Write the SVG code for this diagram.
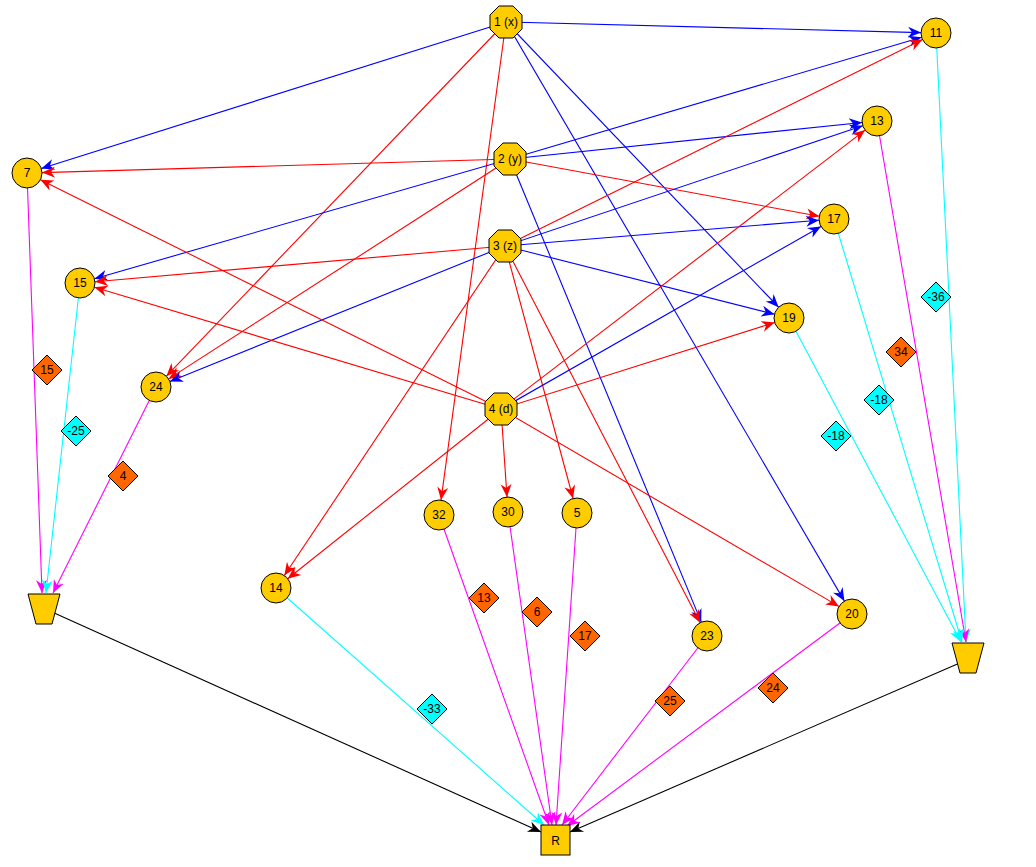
<svg xmlns="http://www.w3.org/2000/svg" xmlns:xlink="http://www.w3.org/1999/xlink" width="1036" height="867" viewBox="0 0 1036 867">
<style>
.nd{fill:#ffcc00;stroke:#000;stroke-width:1}
.t{font-family:"Liberation Sans",Arial,sans-serif;font-size:12px;fill:#000;text-anchor:middle}
.b{stroke:#0000ff;stroke-width:1.1;fill:none;marker-end:url(#mb)}
.r{stroke:#ff0000;stroke-width:1.1;fill:none;marker-end:url(#mr)}
.m{stroke:#ff00ff;stroke-width:1.1;fill:none;marker-end:url(#mm)}
.c{stroke:#00ffff;stroke-width:1.1;fill:none;marker-end:url(#mc)}
.k{stroke:#000;stroke-width:1.1;fill:none;marker-end:url(#mk)}
.dp{fill:#ff6600;stroke:#000;stroke-width:1}
.dn{fill:#00ffff;stroke:#000;stroke-width:1}
</style>
<defs>
<polygon id="oct" points="-7,-16 7,-16 16,-7 16,7 7,16 -7,16 -16,7 -16,-7"/>
<polygon id="dia" points="0,-15 15,0 0,15 -15,0"/>
<polygon id="trap" points="-16,-15 16,-15 8,15 -8,15"/>
<marker id="mb" viewBox="-14 -6 15 12" refX="0" refY="0" markerWidth="15" markerHeight="12" markerUnits="userSpaceOnUse" orient="auto"><path d="M0,0 L-13,-5.5 L-9,0 L-13,5.5 z" fill="#0000ff"/></marker>
<marker id="mr" viewBox="-14 -6 15 12" refX="0" refY="0" markerWidth="15" markerHeight="12" markerUnits="userSpaceOnUse" orient="auto"><path d="M0,0 L-13,-5.5 L-9,0 L-13,5.5 z" fill="#ff0000"/></marker>
<marker id="mm" viewBox="-14 -6 15 12" refX="0" refY="0" markerWidth="15" markerHeight="12" markerUnits="userSpaceOnUse" orient="auto"><path d="M0,0 L-13,-5.5 L-9,0 L-13,5.5 z" fill="#ff00ff"/></marker>
<marker id="mc" viewBox="-14 -6 15 12" refX="0" refY="0" markerWidth="15" markerHeight="12" markerUnits="userSpaceOnUse" orient="auto"><path d="M0,0 L-13,-5.5 L-9,0 L-13,5.5 z" fill="#00ffff"/></marker>
<marker id="mk" viewBox="-14 -6 15 12" refX="0" refY="0" markerWidth="15" markerHeight="12" markerUnits="userSpaceOnUse" orient="auto"><path d="M0,0 L-13,-5.5 L-9,0 L-13,5.5 z" fill="#000000"/></marker>
</defs>
<rect width="1036" height="867" fill="#fff"/>
<g id="connectors">
<!-- from 1 (x) -->
<line class="b" x1="506" y1="22" x2="41.3" y2="168.5"/>
<line class="b" x1="506" y1="22" x2="921" y2="32.6"/>
<line class="r" x1="506" y1="22" x2="166.4" y2="376.2"/>
<line class="r" x1="506" y1="22" x2="441" y2="500.1"/>
<line class="b" x1="506" y1="22" x2="778.6" y2="307.2"/>
<line class="b" x1="506" y1="22" x2="844.4" y2="601.1"/>
<!-- from 2 (y) -->
<line class="r" x1="510" y1="159" x2="42" y2="172.6"/>
<line class="b" x1="510" y1="159" x2="862.1" y2="122.5"/>
<line class="b" x1="510" y1="159" x2="921.6" y2="37.3"/>
<line class="r" x1="510" y1="159" x2="819.3" y2="216.3"/>
<line class="b" x1="510" y1="159" x2="94.4" y2="278.8"/>
<line class="r" x1="510" y1="159" x2="168.6" y2="378.9"/>
<line class="b" x1="510" y1="159" x2="701.3" y2="622.1"/>
<!-- from 3 (z) -->
<line class="r" x1="505" y1="246" x2="922.6" y2="39.6"/>
<line class="b" x1="505" y1="246" x2="862.8" y2="125.8"/>
<line class="b" x1="505" y1="246" x2="819" y2="220.2"/>
<line class="b" x1="505" y1="246" x2="774.5" y2="314.3"/>
<line class="r" x1="505" y1="246" x2="94.9" y2="281.7"/>
<line class="b" x1="505" y1="246" x2="169.9" y2="381.4"/>
<line class="r" x1="505" y1="246" x2="284.3" y2="575.5"/>
<line class="r" x1="505" y1="246" x2="573.1" y2="498.5"/>
<line class="r" x1="505" y1="246" x2="700.1" y2="622.7"/>
<!-- from 4 (d) -->
<line class="r" x1="501" y1="409" x2="40.4" y2="179.7"/>
<line class="r" x1="501" y1="409" x2="94.4" y2="287.3"/>
<line class="b" x1="501" y1="409" x2="821" y2="226.4"/>
<line class="r" x1="501" y1="409" x2="865.1" y2="130.1"/>
<line class="r" x1="501" y1="409" x2="774.7" y2="322.5"/>
<line class="r" x1="501" y1="409" x2="287.7" y2="578.7"/>
<line class="r" x1="501" y1="409" x2="507" y2="497"/>
<line class="r" x1="501" y1="409" x2="839" y2="606.4"/>
<!-- to left trapezoid -->
<line class="m" x1="27" y1="173" x2="42" y2="593"/>
<line class="c" x1="80" y1="283" x2="46" y2="593"/>
<line class="m" x1="156" y1="387" x2="53" y2="593"/>
<!-- to right trapezoid -->
<line class="c" x1="936" y1="33" x2="966" y2="642"/>
<line class="m" x1="877" y1="121" x2="966" y2="642"/>
<line class="c" x1="834" y1="219" x2="962" y2="642"/>
<line class="c" x1="789" y1="318" x2="961" y2="642"/>
<!-- to R -->
<line class="c" x1="276" y1="588" x2="544" y2="825"/>
<line class="m" x1="439" y1="515" x2="549" y2="825"/>
<line class="m" x1="508" y1="512" x2="552" y2="825"/>
<line class="m" x1="577" y1="513" x2="556" y2="825"/>
<line class="m" x1="707" y1="636" x2="562" y2="825"/>
<line class="m" x1="852" y1="614" x2="567" y2="826"/>
<line class="k" x1="52" y1="612" x2="541" y2="832"/>
<line class="k" x1="962" y1="662" x2="570" y2="832"/>
</g>
<g id="edge-labels">
<g transform="translate(47,370)"><use href="#dia" class="dp"/><text class="t" y="4">15</text></g>
<g transform="translate(76,431)"><use href="#dia" class="dn"/><text class="t" y="4">-25</text></g>
<g transform="translate(123,476)"><use href="#dia" class="dp"/><text class="t" y="4">4</text></g>
<g transform="translate(484,598)"><use href="#dia" class="dp"/><text class="t" y="4">13</text></g>
<g transform="translate(537,612)"><use href="#dia" class="dp"/><text class="t" y="4">6</text></g>
<g transform="translate(585,636)"><use href="#dia" class="dp"/><text class="t" y="4">17</text></g>
<g transform="translate(432,709)"><use href="#dia" class="dn"/><text class="t" y="4">-33</text></g>
<g transform="translate(670,701)"><use href="#dia" class="dp"/><text class="t" y="4">25</text></g>
<g transform="translate(773,688)"><use href="#dia" class="dp"/><text class="t" y="4">24</text></g>
<g transform="translate(836,436)"><use href="#dia" class="dn"/><text class="t" y="4">-18</text></g>
<g transform="translate(879,400)"><use href="#dia" class="dn"/><text class="t" y="4">-18</text></g>
<g transform="translate(901,352)"><use href="#dia" class="dp"/><text class="t" y="4">34</text></g>
<g transform="translate(936,297)"><use href="#dia" class="dn"/><text class="t" y="4">-36</text></g>
</g>
<g id="n1" transform="translate(506,22)"><use href="#oct" class="nd"/><text class="t" y="4">1 (x)</text></g>
<g id="n2" transform="translate(510,159)"><use href="#oct" class="nd"/><text class="t" y="4">2 (y)</text></g>
<g id="n3" transform="translate(505,246)"><use href="#oct" class="nd"/><text class="t" y="4">3 (z)</text></g>
<g id="n4" transform="translate(501,409)"><use href="#oct" class="nd"/><text class="t" y="4">4 (d)</text></g>
<g id="n7" transform="translate(27,173)"><circle r="15" class="nd"/><text class="t" y="4">7</text></g>
<g id="n15" transform="translate(80,283)"><circle r="15" class="nd"/><text class="t" y="4">15</text></g>
<g id="n11" transform="translate(936,33)"><circle r="15" class="nd"/><text class="t" y="4">11</text></g>
<g id="n13" transform="translate(877,121)"><circle r="15" class="nd"/><text class="t" y="4">13</text></g>
<g id="n17" transform="translate(834,219)"><circle r="15" class="nd"/><text class="t" y="4">17</text></g>
<g id="n19" transform="translate(789,318)"><circle r="15" class="nd"/><text class="t" y="4">19</text></g>
<g id="n24" transform="translate(156,387)"><circle r="15" class="nd"/><text class="t" y="4">24</text></g>
<g id="n32" transform="translate(439,515)"><circle r="15" class="nd"/><text class="t" y="4">32</text></g>
<g id="n30" transform="translate(508,512)"><circle r="15" class="nd"/><text class="t" y="4">30</text></g>
<g id="n5" transform="translate(577,513)"><circle r="15" class="nd"/><text class="t" y="4">5</text></g>
<g id="n14" transform="translate(276,588)"><circle r="15" class="nd"/><text class="t" y="4">14</text></g>
<g id="n23" transform="translate(707,636)"><circle r="15" class="nd"/><text class="t" y="4">23</text></g>
<g id="n20" transform="translate(852,614)"><circle r="15" class="nd"/><text class="t" y="4">20</text></g>
<g id="sinkL" transform="translate(44,609)"><use href="#trap" class="nd"/></g>
<g id="sinkR" transform="translate(968,658)"><use href="#trap" class="nd"/></g>
<g id="nR"><rect x="541" y="825" width="29" height="30" class="nd"/><text class="t" x="555.5" y="845">R</text></g>
</svg>
